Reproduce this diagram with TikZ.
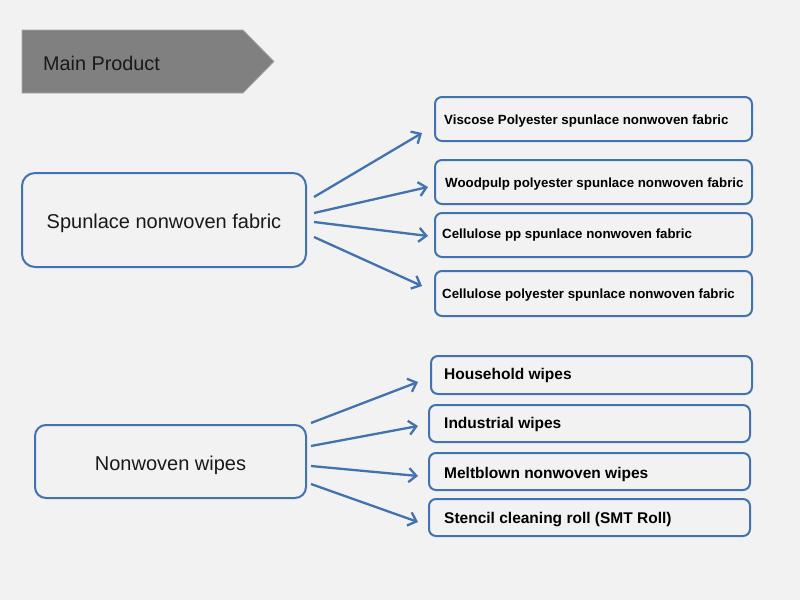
\documentclass[tikz,border=0pt]{standalone}
\usepackage{fontspec}
\setmainfont{Liberation Sans}
\usetikzlibrary{arrows.meta}
\definecolor{bg}{HTML}{F2F2F2}
\definecolor{bl}{HTML}{4272B0}
\definecolor{hdr}{HTML}{808080}
\definecolor{hdrline}{HTML}{A3ABAB}
\tikzset{
  x=1pt, y=-1pt,
  bigbox/.style={draw=bl, line width=2pt, rounded corners=13pt, fill=bg},
  smallbox/.style={draw=bl, line width=2pt, rounded corners=7pt, fill=bg},
  bigtxt/.style={font=\fontsize{20}{23}\selectfont, text=black!90},
  smalltxt/.style={font=\bfseries\fontsize{13.3}{16}\selectfont, anchor=west, inner sep=0pt},
  midtxt/.style={font=\bfseries\fontsize{15.5}{18}\selectfont, anchor=west, inner sep=0pt},
  conn/.style={draw=bl, line width=2.3pt, -{Straight Barb[length=7.5pt,width=14pt,line width=2.3pt]}},
}
\begin{document}
\begin{tikzpicture}
\fill[bg] (0,0) rectangle (800,600);
\useasboundingbox (0,0) rectangle (800,600);
% header
\draw[fill=hdr, draw=hdrline, line width=0.8pt] (22,30) -- (243,30) -- (274,61.5) -- (243,93) -- (22,93) -- cycle;
\node[font=\fontsize{19.8}{22}\selectfont, anchor=west, inner sep=0pt, text=black!90] (hdrtxt) at (43,63.5) {Main Product};
% left boxes
\draw[bigbox] (22,173) rectangle (306,267);
\node[bigtxt] (spun) at (164,223.5) {Spunlace nonwoven fabric};
\draw[bigbox, rounded corners=11pt] (35,425) rectangle (306,498);
\node[bigtxt] (wipes) at (170.5,465) {Nonwoven wipes};
% right boxes group 1
\draw[smallbox] (435,97) rectangle (752,141);
\node[smalltxt] (a1) at (444,121.5) {Viscose Polyester spunlace nonwoven fabric};
\draw[smallbox] (435,160) rectangle (752,204);
\node[smalltxt] (a2) at (445,184.5) {Woodpulp polyester spunlace nonwoven fabric};
\draw[smallbox] (435,213) rectangle (752,257);
\node[smalltxt] (a3) at (442,235.5) {Cellulose pp spunlace nonwoven fabric};
\draw[smallbox] (435,271) rectangle (752,316);
\node[smalltxt] (a4) at (442,295.5) {Cellulose polyester spunlace nonwoven fabric};
% right boxes group 2
\draw[smallbox] (431,356) rectangle (752,394);
\node[midtxt] (b1) at (444,375) {Household wipes};
\draw[smallbox] (429,405) rectangle (750,442);
\node[midtxt] (b2) at (444,424) {Industrial wipes};
\draw[smallbox] (429,453) rectangle (750,490);
\node[midtxt] (b3) at (444,474) {Meltblown nonwoven wipes};
\draw[smallbox] (429,499) rectangle (750,536);
\node[midtxt] (b4) at (444,520) {Stencil cleaning roll (SMT Roll)};
% connector coordinates
\coordinate (s1) at (314,197); \coordinate (e1) at (422,133);
\coordinate (s2) at (314,213); \coordinate (e2) at (428,187);
\coordinate (s3) at (314,222); \coordinate (e3) at (428,236);
\coordinate (s4) at (314,237); \coordinate (e4) at (422,286);
\coordinate (t1) at (311,423); \coordinate (f1) at (418,382);
\coordinate (t2) at (311,446); \coordinate (f2) at (418,426);
\coordinate (t3) at (311,466); \coordinate (f3) at (418,476);
\coordinate (t4) at (311,484); \coordinate (f4) at (418,522);
\draw[conn] (s1) -- (e1);
\draw[conn] (s2) -- (e2);
\draw[conn] (s3) -- (e3);
\draw[conn] (s4) -- (e4);
\draw[conn] (t1) -- (f1);
\draw[conn] (t2) -- (f2);
\draw[conn] (t3) -- (f3);
\draw[conn] (t4) -- (f4);
\end{tikzpicture}
\end{document}
